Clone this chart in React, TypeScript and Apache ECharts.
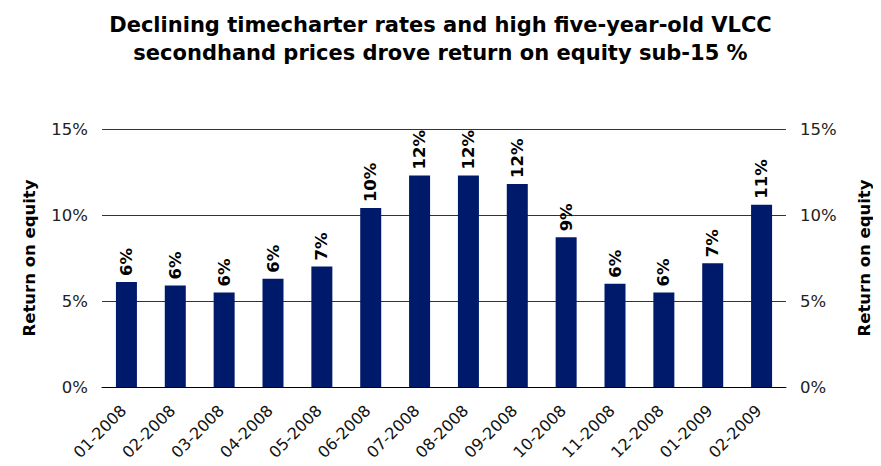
import React, { useEffect, useRef } from "react";
import * as echarts from "echarts";

const categories = [
  "01-2008", "02-2008", "03-2008", "04-2008", "05-2008", "06-2008", "07-2008",
  "08-2008", "09-2008", "10-2008", "11-2008", "12-2008", "01-2009", "02-2009",
];
const roeValues = [6.1, 5.9, 5.5, 6.3, 7.0, 10.4, 12.3, 12.3, 11.8, 8.7, 6.0, 5.5, 7.2, 10.6];
const yTicks = [0, 5, 10, 15];

const titleText =
  "Declining timecharter rates and high five-year-old VLCC\nsecondhand prices drove return on equity sub-15 %";
const axisName = "Return on equity";

const FONT = "DejaVu Sans, Verdana, sans-serif";

export default function App() {
  const ref = useRef<HTMLDivElement>(null);
  useEffect(() => {
    if (!ref.current) return;
    const chart = echarts.init(ref.current, undefined, { renderer: "svg" });
    const yAxisCommon = {
      type: "value" as const,
      min: yTicks[0],
      max: yTicks[yTicks.length - 1],
      interval: 5,
      name: axisName,
      nameLocation: "middle" as const,
      nameRotate: 90,
      nameTextStyle: { fontFamily: FONT, fontSize: 16.5, fontWeight: "bold" as const, color: "#000" },
      axisLine: { show: false },
      axisTick: { show: false },
      axisLabel: {
        formatter: (v: number) => `${v}%`,
        fontFamily: FONT,
        fontSize: 16.5,
        color: "#222",
        margin: 14,
      },
    };
    chart.setOption({
      animation: false,
      backgroundColor: "#fff",
      title: {
        text: titleText,
        left: "center",
        top: 6,
        textStyle: {
          fontFamily: FONT,
          fontSize: 21,
          fontWeight: "bold",
          color: "#000",
          lineHeight: 28,
        },
      },
      grid: { left: 102, right: 83, top: 129, bottom: 79, containLabel: false },
      xAxis: {
        type: "category",
        data: categories,
        axisLine: { show: true, lineStyle: { color: "#000", width: 1 } },
        axisTick: { show: false },
        axisLabel: {
          rotate: 45,
          interval: 0,
          margin: 18,
          padding: [0, 4, 0, 0],
          fontFamily: FONT,
          fontSize: 16,
          color: "#111",
        },
      },
      yAxis: [
        {
          ...yAxisCommon,
          position: "left",
          nameGap: 64,
          splitLine: { show: true, lineStyle: { color: "#333", width: 1 } },
        },
        {
          ...yAxisCommon,
          position: "right",
          nameGap: 70,
          splitLine: { show: false },
        },
      ],
      series: [
        {
          type: "bar",
          data: roeValues,
          yAxisIndex: 0,
          barWidth: 21,
          itemStyle: { color: "#001A6B" },
          label: {
            show: true,
            position: "top",
            rotate: 90,
            align: "left",
            verticalAlign: "middle",
            distance: 6,
            fontFamily: FONT,
            fontSize: 16.5,
            fontWeight: "bold",
            color: "#000",
            formatter: (p: any) => `${Math.round(p.value)}%`,
          },
        },
      ],
    });
    return () => chart.dispose();
  }, []);
  return <div ref={ref} style={{ width: 881, height: 466, margin: -8 }} />;
}
